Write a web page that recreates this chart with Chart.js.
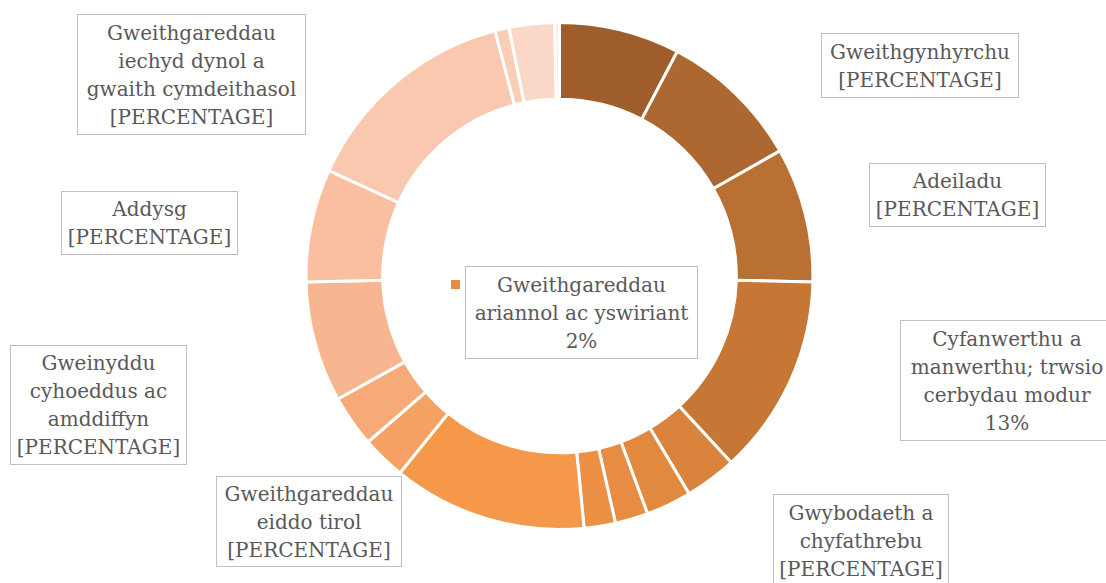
<!DOCTYPE html>
<html>
<head>
<meta charset="utf-8">
<script src="https://cdn.jsdelivr.net/npm/chart.js@4/dist/chart.umd.min.js"></script>
<style>
  html, body { margin: 0; padding: 0; background: #fff; }
  #wrap { position: relative; width: 1106px; height: 583px; overflow: hidden; }
  .box {
    position: absolute; box-sizing: border-box;
    border: 1.5px solid #BFBFBF; background: #fff;
    font-family: 'DejaVu Serif', serif; font-size: 20px; line-height: 28px;
    color: #595959; text-align: center; white-space: nowrap;
    display: flex; flex-direction: column; justify-content: center;
  }
  .key { position: absolute; width: 9px; height: 9px; }
</style>
</head>
<body>
<div id="wrap">
  <canvas id="doughnutChart" width="1106" height="583"></canvas>
</div>
<script>
// Sectors, clockwise from 12 o'clock
const sectors = [
    'Gweithgynhyrchu',
    'Adeiladu',
    'Gweithgareddau llety a gwasanaethau bwyd',
    'Cyfanwerthu a manwerthu; trwsio cerbydau modur',
    'Gwybodaeth a chyfathrebu',
    'Cludiant a storio',
    'Gweithgareddau ariannol ac yswiriant',
    'Amaethyddiaeth, coedwigaeth a physgota',
    'Gweithgareddau proffesiynol, gwyddonol a thechnegol',
    'Gweithgareddau eiddo tirol',
    'Celfyddydau, adloniant a hamdden',
    'Gweinyddu cyhoeddus ac amddiffyn',
    'Addysg',
    'Gweithgareddau iechyd dynol a gwaith cymdeithasol',
    'Mwyngloddio a chwarela',
    'Gweithgareddau gwasanaethau gweinyddol a chymorth',
    'Cyflenwi trydan, nwy, ager ac aerdymheru'
];

// Share of each sector (%)
const shares = [7.7, 9.1, 8.6, 12.8, 3.3, 2.9, 2.1, 2.0, 12.4, 2.8, 3.3, 7.7, 7.2, 14.1, 0.9, 2.9, 0.3];

const colors = [
    '#9E5D2B', '#AC6830', '#B97133', '#C67735', '#D9833D', '#E0893F',
    '#E68D43', '#EB9045', '#F5984A', '#F6A264', '#F6AA78', '#F8B690',
    '#F9BFA0', '#FAC8AE', '#FACDB5', '#FBD7C8', '#FDEAE0'
];

// Label text as wrapped in the original, and whether the real value is shown
const labelLines = {
    0: ['Gweithgynhyrchu'],
    1: ['Adeiladu'],
    3: ['Cyfanwerthu a', 'manwerthu; trwsio', 'cerbydau modur'],
    4: ['Gwybodaeth a', 'chyfathrebu'],
    6: ['Gweithgareddau', 'ariannol ac yswiriant'],
    9: ['Gweithgareddau', 'eiddo tirol'],
    11: ['Gweinyddu', 'cyhoeddus ac', 'amddiffyn'],
    12: ['Addysg'],
    13: ['Gweithgareddau', 'iechyd dynol a', 'gwaith cymdeithasol']
};
const showValue = [3, 6];

// Where each label box sits (left, top, width, height)
const boxLayout = {
    0: [821, 33, 198, 65],
    1: [869, 163, 177, 64],
    3: [900, 320, 214, 121],
    4: [773, 494, 176, 93],
    6: [465, 266, 233, 93],
    9: [216, 476, 186, 91],
    11: [10, 345, 177, 120],
    12: [61, 191, 177, 64],
    13: [77, 14, 229, 121]
};
const keyFor = { 6: [451, 280] };

const total = shares.reduce((a, b) => a + b, 0);

const ctx = document.getElementById('doughnutChart').getContext('2d');
new Chart(ctx, {
    type: 'doughnut',
    data: {
        labels: sectors,
        datasets: [{
            data: shares,
            backgroundColor: colors,
            borderColor: '#FFFFFF',
            borderWidth: 3,
            radius: 253.5,
            cutout: 191.5
        }]
    },
    options: {
        responsive: false,
        animation: false,
        layout: { padding: { left: 13, top: 0, right: 0, bottom: 31 } },
        plugins: {
            legend: { display: false },
            tooltip: { enabled: false }
        }
    }
});

// Data label boxes
const wrap = document.getElementById('wrap');
Object.keys(labelLines).forEach(k => {
    const i = parseInt(k);
    const pct = showValue.includes(i) ? Math.round(shares[i] / total * 100) + '%' : '[PERCENTAGE]';
    const lines = labelLines[i].concat([pct]);
    const [x, y, w, h] = boxLayout[i];
    const div = document.createElement('div');
    div.className = 'box';
    div.style.left = x + 'px';
    div.style.top = y + 'px';
    div.style.width = w + 'px';
    div.style.height = h + 'px';
    lines.forEach(t => {
        const s = document.createElement('div');
        s.textContent = t;
        div.appendChild(s);
    });
    wrap.appendChild(div);
    if (keyFor[i]) {
        const key = document.createElement('div');
        key.className = 'key';
        key.style.left = keyFor[i][0] + 'px';
        key.style.top = keyFor[i][1] + 'px';
        key.style.background = colors[i];
        wrap.appendChild(key);
    }
});
</script>
</body>
</html>
